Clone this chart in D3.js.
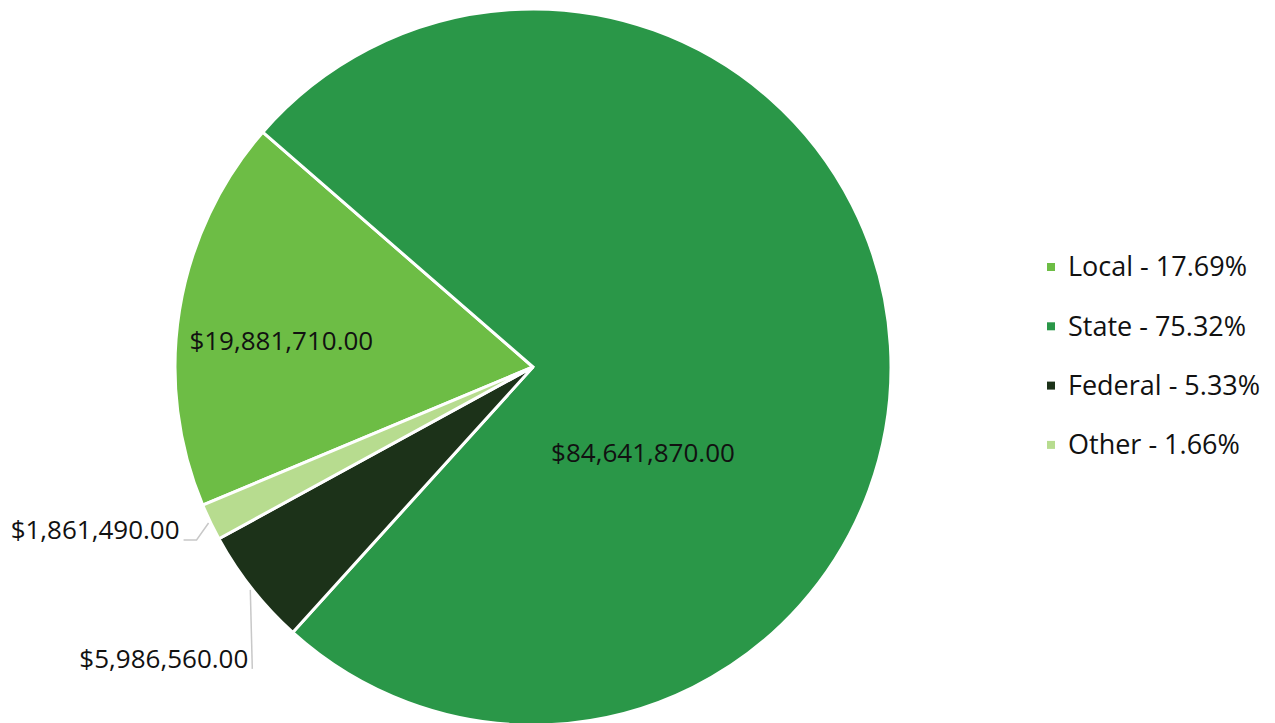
<!DOCTYPE html>
<html>
<head>
<meta charset="utf-8">
<script src="https://cdn.jsdelivr.net/npm/d3@7"></script>
<style>
  body { margin: 0; background: #fff; }
  svg { display: block; }
  text { font-family: "Open Sans", "Noto Sans", sans-serif; fill: #111; }
</style>
</head>
<body>
<svg id="chart" width="1275" height="723"></svg>
<script>
// data, in legend order
const categories = ["Local", "State", "Federal", "Other"];
const amounts = [19881710, 84641870, 5986560, 1861490];
const percents = ["17.69%", "75.32%", "5.33%", "1.66%"];
const colors = ["#6dbd45", "#2a9748", "#1c3219", "#b7dc8f"];

const width = 1275, height = 723;
const cx = 533, cy = 367, radius = 358;
const startDeg = -112.7;

var svg = d3.select("#chart");

var pie = d3.pie()
  .sort(null)
  .value(d => d.value)
  .startAngle(startDeg * Math.PI / 180)
  .endAngle((startDeg + 360) * Math.PI / 180);

var rows = categories.map((c, i) => ({ name: c, value: amounts[i], pct: percents[i], color: colors[i] }));
var arcs = pie(rows);

var arc = d3.arc().innerRadius(0).outerRadius(radius);

var g = svg.append("g").attr("transform", "translate(" + cx + "," + cy + ")");

g.selectAll(".slice")
  .data(arcs)
  .enter()
  .append("path")
  .attr("class", "slice")
  .attr("d", arc)
  .attr("fill", d => d.data.color)
  .attr("stroke", "#fff")
  .attr("stroke-width", 3)
  .attr("stroke-linejoin", "miter");

var fmt = d3.format("$,.2f");

// inside labels: polar placement (radius fraction, angle in degrees)
var inside = {
  Local: { r: 0.707, a: -84 },
  State: { r: 0.39, a: 128 }
};

g.selectAll(".inlabel")
  .data(arcs.filter(d => inside[d.data.name]))
  .enter()
  .append("text")
  .attr("class", "inlabel")
  .attr("x", d => inside[d.data.name].r * radius * Math.sin(inside[d.data.name].a * Math.PI / 180))
  .attr("y", d => -inside[d.data.name].r * radius * Math.cos(inside[d.data.name].a * Math.PI / 180))
  .attr("text-anchor", "middle")
  .attr("dy", "0.35em")
  .style("font-size", "26px")
  .text(d => fmt(d.data.value));

// outside labels with leader lines
var outside = {
  Other: { ex: -12, ey: 17, hx: -13 },
  Federal: { ex: 2, ey: 79, hx: 0 }
};

var outArcs = arcs.filter(d => outside[d.data.name]);

function edgePoint(d) {
  var a = (d.startAngle + d.endAngle) / 2;
  return [(radius + 2) * Math.sin(a), -(radius + 2) * Math.cos(a)];
}

g.selectAll(".leader")
  .data(outArcs)
  .enter()
  .append("polyline")
  .attr("class", "leader")
  .attr("fill", "none")
  .attr("stroke", "#c8c8c8")
  .attr("stroke-width", 1.5)
  .attr("points", function(d) {
    var o = outside[d.data.name], p = edgePoint(d);
    var s = [p[0] + (o.ex ? 0 : o.ex), p[1]];
    var e = [p[0] + o.ex, p[1] + o.ey];
    return [s, e, [e[0] + o.hx, e[1]]].map(q => q.join(",")).join(" ");
  });

g.selectAll(".outlabel")
  .data(outArcs)
  .enter()
  .append("text")
  .attr("class", "outlabel")
  .attr("x", function(d) { var o = outside[d.data.name]; return edgePoint(d)[0] + o.ex + o.hx - 4; })
  .attr("y", function(d) { var o = outside[d.data.name]; return edgePoint(d)[1] + o.ey; })
  .attr("text-anchor", "end")
  .attr("dy", "-0.02em")
  .style("font-size", "26px")
  .text(d => fmt(d.data.value));

// legend
var legend = svg.append("g").attr("transform", "translate(1047,267)");

var item = legend.selectAll(".item")
  .data(rows)
  .enter()
  .append("g")
  .attr("class", "item")
  .attr("transform", (d, i) => "translate(0," + (i * 59.3) + ")");

item.append("rect")
  .attr("x", 0)
  .attr("y", -4)
  .attr("width", 8)
  .attr("height", 8)
  .attr("fill", d => d.color);

item.append("text")
  .attr("x", 21)
  .attr("y", 0)
  .attr("dy", "0.35em")
  .style("font-size", "27px")
  .text(d => d.name + " - " + d.pct);
</script>
</body>
</html>
